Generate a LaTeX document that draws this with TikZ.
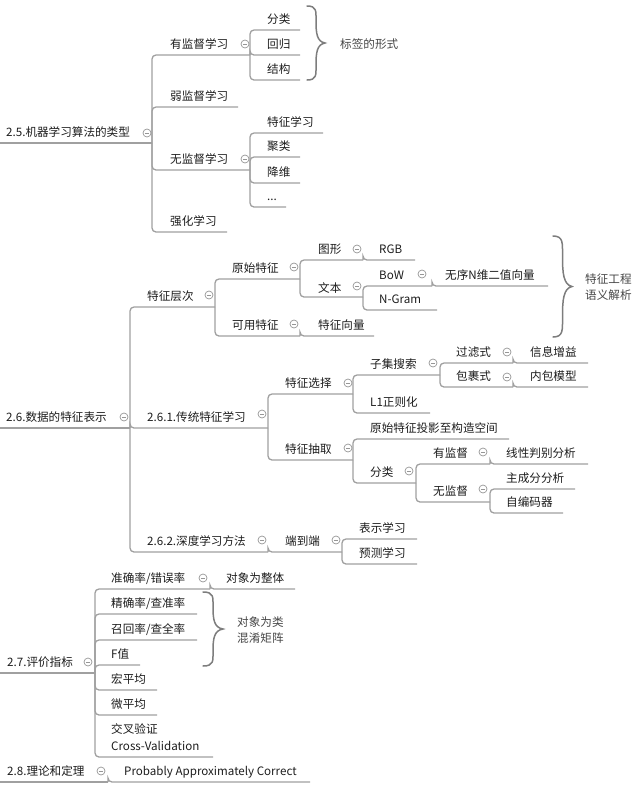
\documentclass[tikz,border=0pt]{standalone}
\usepackage{fontspec}
\setmainfont{Noto Sans CJK SC}
\definecolor{linec}{RGB}{160,160,160}
\definecolor{txtc}{RGB}{28,28,28}
\definecolor{lblc}{RGB}{70,70,70}
\definecolor{colc}{RGB}{150,150,150}
\definecolor{bracec}{RGB}{125,125,125}
\tikzset{
  txt/.style={anchor=base west, inner sep=0pt, text=txtc, font=\fontsize{11.6}{14}\selectfont},
  lbl/.style={anchor=west, inner sep=0pt, text=lblc, align=left, font=\fontsize{11.6}{16}\selectfont},
  link/.style={draw=linec, line width=1.3pt, rounded corners=4pt},
  col/.style={circle, draw=colc, line width=0.7pt, minimum size=8pt, inner sep=0pt, fill=white,
    path picture={\draw[colc, line width=0.7pt] ([xshift=-2.2pt]path picture bounding box.center) -- ([xshift=2.2pt]path picture bounding box.center);}},
  brc/.style={draw=bracec, line width=1.5pt, line cap=round}
}
\newcommand\tpc[5]{\node[txt] (#1) at (#2,#3-7) {#5};\coordinate (#1-e) at (#4,#3);}
% curly brace: x0, top, bottom, amplitude
\newcommand\cbrace[4]{%
  \pgfmathsetmacro\cbH{#3-#2}\pgfmathsetmacro\cbM{(#2+#3)/2}%
  \draw[brc] (#1,#2) .. controls ({#1+0.55*#4},#2) and ({#1+0.5*#4},{#2+0.07*\cbH}) .. ({#1+0.5*#4},{#2+0.2*\cbH})
   .. controls ({#1+0.5*#4},{\cbM-0.13*\cbH}) and ({#1+0.55*#4},{\cbM-0.02*\cbH}) .. ({#1+#4},\cbM)
   .. controls ({#1+0.55*#4},{\cbM+0.02*\cbH}) and ({#1+0.5*#4},{\cbM+0.13*\cbH}) .. ({#1+0.5*#4},{#3-0.2*\cbH})
   .. controls ({#1+0.5*#4},{#3-0.07*\cbH}) and ({#1+0.55*#4},#3) .. (#1,#3);}
\begin{document}
\begin{tikzpicture}[x=1pt,y=-1pt]
\useasboundingbox (0,0) rectangle (642,788);
% ---------- 2.5 ----------
\coordinate (r25-s) at (0,143);
\tpc{r25}{6}{143}{152}{2.5.机器学习算法的类型}
\tpc{sup}{170}{55}{250}{有监督学习}
\tpc{fl}{267}{30}{300}{分类}
\tpc{hg}{267}{55}{300}{回归}
\tpc{jg}{267}{80}{300}{结构}
\tpc{weak}{170}{107}{238}{弱监督学习}
\tpc{uns}{170}{170}{250}{无监督学习}
\tpc{tzxx}{267}{133}{323}{特征学习}
\tpc{jl}{267}{157}{300}{聚类}
\tpc{jw}{267}{183}{300}{降维}
\tpc{dots}{267}{207}{286}{...}
\tpc{rl}{170}{232}{227}{强化学习}
\draw[link] (r25-s) -- (r25-e);
\foreach \c in {sup,weak,uns,rl} \draw[link] (r25-e) |- (\c-e);
\foreach \c in {fl,hg,jg} \draw[link] (sup-e) |- (\c-e);
\foreach \c in {tzxx,jl,jw,dots} \draw[link] (uns-e) |- (\c-e);
\node[col] (r25-c) at (147,133) {};
\node[col] (sup-c) at (245,44) {};
\node[col] (uns-c) at (245,159) {};
\cbrace{307}{6}{80}{18}
\node[lbl] (lab25) at (340,44) {标签的形式};
% ---------- 2.6 ----------
\coordinate (r26-s) at (0,428);
\tpc{r26}{6}{428}{130}{2.6.数据的特征表示}
\tpc{tzcc}{147}{307}{215}{特征层次}
\tpc{ystz}{232}{279}{300}{原始特征}
\tpc{tx}{318}{260}{363}{图形}
\tpc{rgb}{379}{260}{415}{RGB}
\node[txt] (wb) at (318,292) {文本};
\coordinate (wb-e) at (363,297);
\tpc{bow}{379}{286}{432}{BoW}
\tpc{wx}{445}{286}{548}{无序N维二值向量}
\tpc{ngram}{379}{310}{437}{N-Gram}
\tpc{kytz}{232}{336}{300}{可用特征}
\tpc{tzxl}{318}{336}{374}{特征向量}
\tpc{ct}{147}{428}{268}{2.6.1.传统特征学习}
\tpc{tzxz}{285}{394}{353}{特征选择}
\tpc{zjss}{370}{375}{440}{子集搜索}
\tpc{glz}{456}{363}{513}{过滤式}
\tpc{xxzy}{530}{363}{588}{信息增益}
\tpc{bgs}{456}{387}{513}{包裹式}
\tpc{nbmx}{530}{387}{588}{内包模型}
\tpc{lone}{370}{413}{430}{L1正则化}
\tpc{tzcq}{285}{460}{353}{特征抽取}
\tpc{tysk}{370}{439}{509}{原始特征投影至构造空间}
\tpc{fltwo}{370}{483}{416}{分类}
\tpc{yjd}{433}{464}{490}{有监督}
\tpc{xxpb}{506}{464}{588}{线性判别分析}
\tpc{wjd}{433}{502}{490}{无监督}
\tpc{zcf}{506}{489}{575}{主成分分析}
\tpc{zbm}{506}{513}{563}{自编码器}
\tpc{sd}{147}{552}{268}{2.6.2.深度学习方法}
\tpc{ddd}{285}{552}{342}{端到端}
\tpc{bsxx}{359}{539}{417}{表示学习}
\tpc{ycxx}{359}{564}{417}{预测学习}
\draw[link] (r26-s) -- (r26-e);
\foreach \c in {tzcc,ct,sd} \draw[link] (r26-e) |- (\c-e);
\foreach \c in {ystz,kytz} \draw[link] (tzcc-e) |- (\c-e);
\foreach \c in {tx,wb} \draw[link] (ystz-e) |- (\c-e);
\draw[link] (tx-e) |- (rgb-e);
\foreach \c in {bow,ngram} \draw[link] (wb-e) |- (\c-e);
\draw[link] (bow-e) |- (wx-e);
\draw[link] (kytz-e) |- (tzxl-e);
\foreach \c in {tzxz,tzcq} \draw[link] (ct-e) |- (\c-e);
\foreach \c in {zjss,lone} \draw[link] (tzxz-e) |- (\c-e);
\foreach \c in {glz,bgs} \draw[link] (zjss-e) |- (\c-e);
\draw[link] (glz-e) |- (xxzy-e);
\draw[link] (bgs-e) |- (nbmx-e);
\foreach \c in {tysk,fltwo} \draw[link] (tzcq-e) |- (\c-e);
\foreach \c in {yjd,wjd} \draw[link] (fltwo-e) |- (\c-e);
\draw[link] (yjd-e) |- (xxpb-e);
\foreach \c in {zcf,zbm} \draw[link] (wjd-e) |- (\c-e);
\draw[link] (sd-e) |- (ddd-e);
\foreach \c in {bsxx,ycxx} \draw[link] (ddd-e) |- (\c-e);
\node[col] (r26-c) at (124,417) {};
\node[col] (tzcc-c) at (209,295) {};
\node[col] (ystz-c) at (294,267) {};
\node[col] (tx-c) at (357,249) {};
\node[col] (wb-c) at (357,286) {};
\node[col] (bow-c) at (422,274) {};
\node[col] (kytz-c) at (294,324) {};
\node[col] (ct-c) at (262,414) {};
\node[col] (tzxz-c) at (348,383) {};
\node[col] (zjss-c) at (433,363) {};
\node[col] (glz-c) at (507,352) {};
\node[col] (bgs-c) at (507,377) {};
\node[col] (tzcq-c) at (348,448) {};
\node[col] (fltwo-c) at (409,471) {};
\node[col] (yjd-c) at (483,452) {};
\node[col] (wjd-c) at (483,489) {};
\node[col] (sd-c) at (262,540) {};
\node[col] (ddd-c) at (336,540) {};
\cbrace{553}{236}{337}{19}
\node[lbl] (lab26) at (585,287) {特征工程\\语义解析};
% ---------- 2.7 ----------
\coordinate (r27-s) at (0,673);
\tpc{r27}{7}{673}{95}{2.7.评价指标}
\tpc{zql}{111}{589}{210}{准确率/错误率}
\tpc{dxzt}{226}{589}{295}{对象为整体}
\tpc{jql}{111}{614}{197}{精确率/查准率}
\tpc{zhl}{111}{640}{197}{召回率/查全率}
\tpc{fz}{111}{665}{140}{F值}
\tpc{hpj}{111}{690}{157}{宏平均}
\tpc{wpj}{111}{715}{157}{微平均}
\tpc{jcyz}{111}{757}{213}{Cross-Validation}
\node[txt] (jcyz-a) at (111,733) {交叉验证};
\draw[link] (r27-s) -- (r27-e);
\foreach \c in {zql,jql,zhl,fz,hpj,wpj,jcyz} \draw[link] (r27-e) |- (\c-e);
\draw[link] (zql-e) |- (dxzt-e);
\node[col] (r27-c) at (88,662) {};
\node[col] (zql-c) at (203,578) {};
\cbrace{203}{592}{666}{20}
\node[lbl] (lab27) at (237,630) {对象为类\\混淆矩阵};
% ---------- 2.8 ----------
\coordinate (r28-s) at (0,782);
\tpc{r28}{7}{782}{108}{2.8.理论和定理}
\tpc{pac}{124}{782}{310}{Probably Approximately Correct}
\draw[link] (r28-s) -- (r28-e);
\draw[link] (r28-e) |- (pac-e);
\node[col] (r28-c) at (101,771) {};
\end{tikzpicture}
\end{document}
